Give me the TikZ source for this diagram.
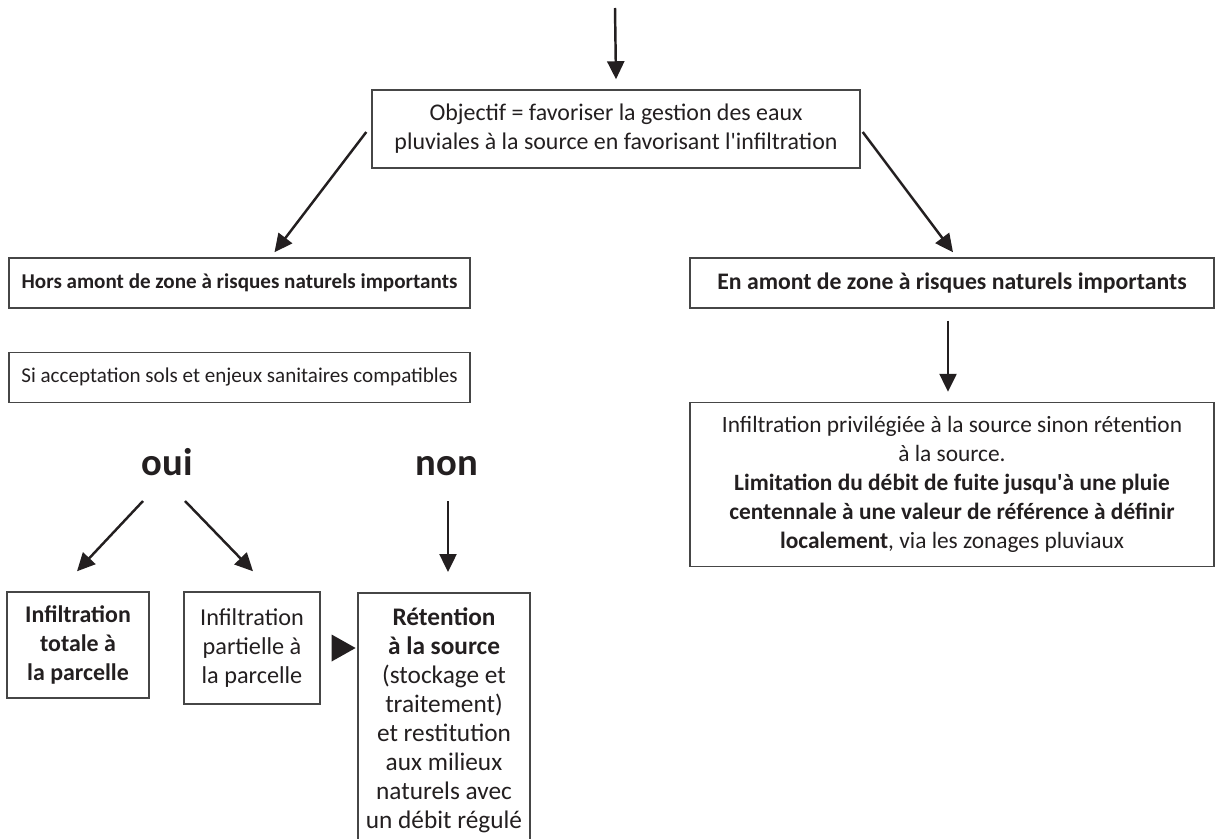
\documentclass[tikz,border=0pt]{standalone}
\usepackage{fontspec}
\setmainfont{Carlito}
\usepackage{tikz}
\usetikzlibrary{shapes.geometric, arrows.meta}
\usetikzlibrary{positioning}
\definecolor{ink}{RGB}{35,31,32}
\definecolor{rule}{RGB}{70,70,70}
\newcommand{\sz}[1]{\fontsize{#1}{16.5}\selectfont}
\tikzset{
    box/.style = {
        rectangle,
        draw=rule,
        line width=0.85pt,
        align=center,
        text=ink,
        inner sep=0pt,
        font=\sz{13},
    },
    bigword/.style = {
        text=ink,
        inner sep=0pt,
        font=\fontsize{22}{26}\selectfont\bfseries,
    },
    pointer/.style = {
        isosceles triangle,
        isosceles triangle stretches,
        fill=ink,
        minimum width=0.54cm,
        minimum height=0.48cm,
        inner sep=0pt,
    },
}
\tikzstyle{arrow} = [line width=1.4pt, draw=ink, -{Triangle[length=0.36cm,width=0.34cm]}]

\begin{document}
\begin{tikzpicture}[x=0.02cm, y=-0.02cm]
        \useasboundingbox (0,0) rectangle (1216,838);

        \coordinate (entree) at (615,8);
        \node(objectif) [box, minimum width=9.76cm, minimum height=1.56cm, font=\sz{13.6}] at (616,129)
        {Objectif = favoriser la gestion des eaux\\ pluviales à la source en favorisant l\textquotesingle infiltration};
        \node(hors) [box, minimum width=9.22cm, minimum height=1cm, font=\sz{12}\bfseries] at (239.5,283)
        {Hors amont de zone à risques naturels importants};
        \node(amont) [box, minimum width=10.48cm, minimum height=1cm, font=\sz{13.5}\bfseries] at (952,283)
        {En amont de zone à risques naturels importants};
        \node(sols) [box, minimum width=9.22cm, minimum height=1cm, font=\sz{12}, below = 0.86cm of hors]
        {Si acceptation sols et enjeux sanitaires compatibles};
        \node(privilegiee) [box, minimum width=10.48cm, minimum height=3.28cm, font=\sz{13.3}] at (952,484.5)
        {Infiltration privilégiée à la source sinon rétention\\ à la source.\\
        \textbf{Limitation du débit de fuite jusqu\textquotesingle à une pluie}\\
        \textbf{centennale à une valeur de référence à définir}\\
        \textbf{localement}, via les zonages pluviaux};

        \node(oui) [bigword, anchor=base] at (167,475) {oui};
        \node(non) [bigword, anchor=base] at (447,475) {non};

        \node(totale) [box, minimum width=2.84cm, minimum height=2.12cm, font=\sz{13.6}\bfseries] at (78,645)
        {Infiltration\\ totale à\\ la parcelle};
        \node(partielle) [box, minimum width=2.72cm, minimum height=2.24cm, font=\sz{13.8}] at (252,648)
        {Infiltration\\ partielle à\\ la parcelle};
        \node(retention) [box, anchor=north, minimum width=3.44cm, inner ysep=0.3cm, font=\sz{14.4}] at (444,592)
        {\textbf{Rétention}\\ \textbf{à la source}\\ (stockage et\\ traitement)\\
        et restitution\\ aux milieux\\ naturels avec\\ un débit régulé};
        \node(fleche) [pointer] at (339.5,648) {};

        \draw [arrow] (entree) -- ([yshift=0.2cm]objectif.north);
        \draw [arrow] ([shift={(-5,3)}]objectif.west) -- ([shift={(35,-5)}]hors.north);
        \draw [arrow] ([shift={(2,3)}]objectif.east) -- ([shift={(1,-5)}]amont.north);
        \draw [arrow] ([shift={(-4,12)}]amont.south) -- ([shift={(-4,-10)}]privilegiee.north);
        \draw [arrow] ([shift={(-24,26)}]oui.base) -- ([shift={(-1,-20)}]totale.north);
        \draw [arrow] ([shift={(18,26)}]oui.base) -- ([shift={(1,-20)}]partielle.north);
        \draw [arrow] ([shift={(1,26)}]non.base) -- ([shift={(4,-20)}]retention.north);

    \end{tikzpicture}
\end{document}
